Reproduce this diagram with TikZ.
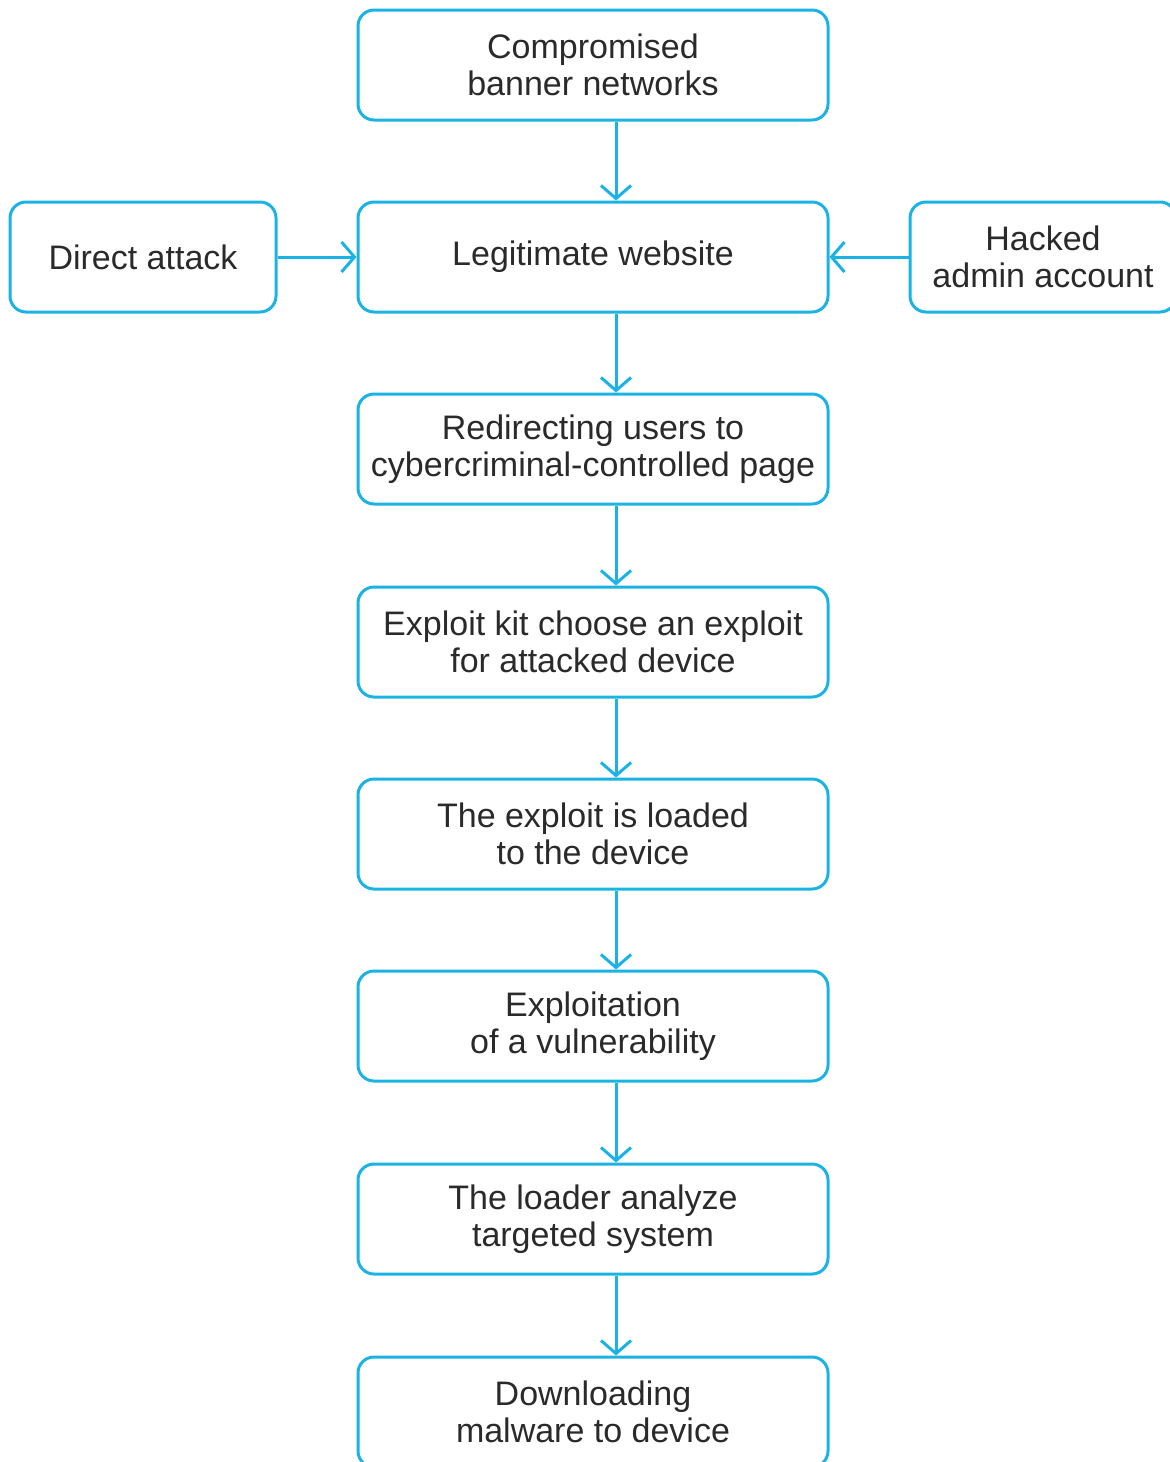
\documentclass[tikz,border=0pt]{standalone}
\usepackage{fontspec}
\setmainfont{Liberation Sans}
\definecolor{kcyan}{HTML}{1BB3E3}
\definecolor{ktext}{HTML}{2A2A2A}
\usetikzlibrary{arrows.meta}
\begin{document}
\begin{tikzpicture}[
        x=0.5pt, y=-0.5pt,
        stage/.style={draw=kcyan, line width=1.5pt, rounded corners=8pt, fill=white,
            minimum width=235pt, minimum height=55pt, align=center, text=ktext,
            font=\fontsize{17pt}{18.5pt}\selectfont, inner sep=0pt},
        source/.style={stage, minimum width=133pt},
        flow/.style={draw=kcyan, line width=1.5pt, -{Straight Barb[length=6.5pt, width=15pt, line width=1.5pt]}},
    ]
    \useasboundingbox (0, 0) rectangle (1169, 1462);

    \node[stage] (banner) at (593, 65) {Compromised\\banner networks};
    \node[stage] (site) at (593, 257) {Legitimate website};
    \node[stage] (redirect) at (593, 449) {Redirecting users to\\cybercriminal-controlled page};
    \node[stage] (kit) at (593, 642) {Exploit kit choose an exploit\\for attacked device};
    \node[stage] (loaded) at (593, 834) {The exploit is loaded\\to the device};
    \node[stage] (vuln) at (593, 1026) {Exploitation\\of a vulnerability};
    \node[stage] (loader) at (593, 1219) {The loader analyze\\targeted system};
    \node[stage] (malware) at (593, 1412) {Downloading\\malware to device};

    \node[source] (direct) at (143, 257) {Direct attack};
    \node[source] (admin) at (1043, 257) {Hacked\\admin account};

    % chain of stages, arrows a bit right of centre
    \foreach \a/\b in {banner/site, site/redirect, redirect/kit, kit/loaded,
        loaded/vuln, vuln/loader, loader/malware}
        \draw[flow] ([xshift=11.5pt]\a.south) -- ([xshift=11.5pt]\b.north);

    \draw[flow] (direct) -- (site);
    \draw[flow] (admin) -- (site);

\end{tikzpicture}
\end{document}
